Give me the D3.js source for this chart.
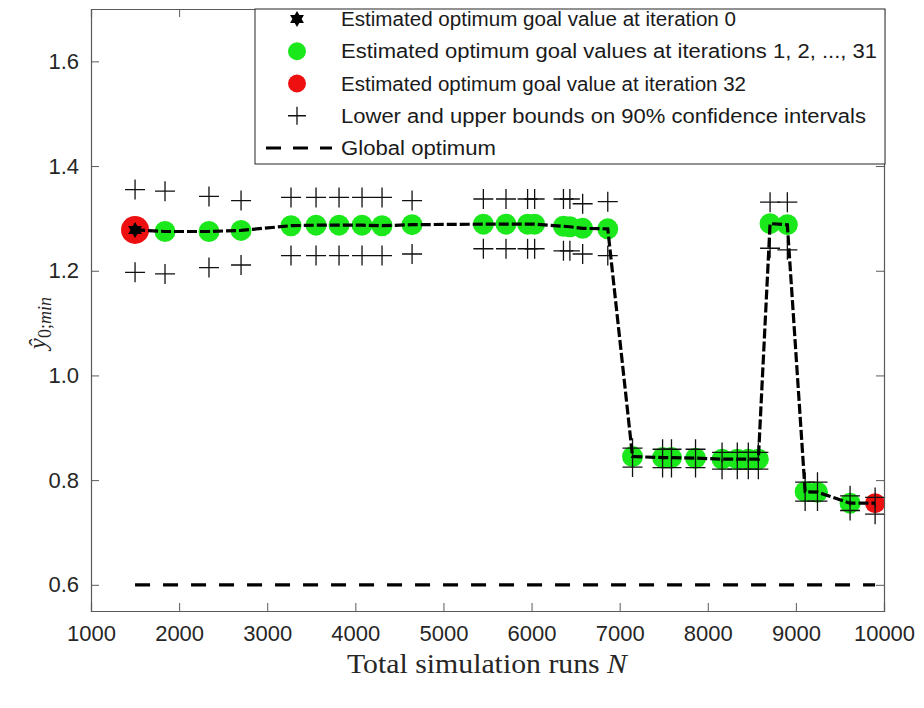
<!DOCTYPE html>
<html>
<head>
<meta charset="utf-8">
<script src="https://cdn.jsdelivr.net/npm/d3@7"></script>
<style>
  body { margin: 0; background: #fff; }
  svg { display: block; }
</style>
</head>
<body>
<div id="chart"></div>
<script>
// ---- data ----
// iteration 0
var startRun = 1500, startVal = 1.278, startLo = 1.197, startHi = 1.355;
// iterations 1..31 (green)
var runs = [1840, 2339, 2703, 3270, 3554, 3815, 4076, 4303, 4644,
            5453, 5710, 5955, 6035, 6362, 6435, 6580, 6865,
            7146, 7487, 7588, 7861, 8162, 8335, 8460, 8574,
            8707, 8903, 9105, 9245, 9615];
var vals = [1.275, 1.275, 1.277, 1.286, 1.287, 1.287, 1.287, 1.286, 1.288,
            1.289, 1.289, 1.289, 1.289, 1.285, 1.284, 1.281, 1.280,
            0.845, 0.843, 0.843, 0.842, 0.840, 0.840, 0.840, 0.840,
            1.290, 1.288, 0.778, 0.777, 0.756];
var lower = [1.194, 1.206, 1.211, 1.229, 1.229, 1.229, 1.229, 1.229, 1.232,
             1.242, 1.242, 1.242, 1.242, 1.238, 1.238, 1.232, 1.229,
             0.825, 0.824, 0.824, 0.824, 0.821, 0.821, 0.821, 0.821,
             1.243, 1.240, 0.760, 0.760, 0.742];
var upper = [1.352, 1.342, 1.334, 1.340, 1.340, 1.340, 1.340, 1.340, 1.334,
             1.337, 1.337, 1.337, 1.337, 1.337, 1.337, 1.328, 1.332,
             0.861, 0.859, 0.859, 0.859, 0.853, 0.853, 0.853, 0.853,
             1.331, 1.331, 0.796, 0.796, 0.770];
// iteration 32 (red)
var endRun = 9899, endVal = 0.756, endLo = 0.735, endHi = 0.767;
var globalOpt = 0.6;

var xTicks = [1000, 2000, 3000, 4000, 5000, 6000, 7000, 8000, 9000, 10000];
var yTicks = [0.6, 0.8, 1.0, 1.2, 1.4, 1.6];
var legendLabels = [
  "Estimated optimum goal value at iteration 0",
  "Estimated optimum goal values at iterations 1, 2, ..., 31",
  "Estimated optimum goal value at iteration 32",
  "Lower and upper bounds on 90% confidence intervals",
  "Global optimum"
];

// ---- layout ----
const width = 924, height = 708;
const margin = {top: 9, right: 40, bottom: 97, left: 91};
const green = "#1ae81a", red = "#ee1010", axisCol = "#5a5a5a";

var svg = d3.select("#chart").append("svg")
    .attr("width", width)
    .attr("height", height)
    .style("font-family", "'Liberation Sans', Arial, Helvetica, sans-serif");

var x = d3.scaleLinear().domain([1000, 10000])
    .range([margin.left, width - margin.right]);
var y = d3.scaleLinear().domain([0.55, 1.7])
    .range([height - margin.bottom, margin.top]);

// all points along the path
var pathRuns = [startRun].concat(runs, [endRun]);
var pathVals = [startVal].concat(vals, [endVal]);
var pathLo = [startLo].concat(lower, [endLo]);
var pathHi = [startHi].concat(upper, [endHi]);

var g = svg.append("g");

// global optimum line
g.append("line")
    .attr("x1", x(startRun)).attr("x2", x(endRun))
    .attr("y1", y(globalOpt)).attr("y2", y(globalOpt))
    .attr("stroke", "#000").attr("stroke-width", 3.2)
    .attr("stroke-dasharray", "15,13");

// big red marker behind the star at iteration 0
g.append("circle")
    .attr("cx", x(startRun)).attr("cy", y(startVal)).attr("r", 14)
    .attr("fill", red);

// green circles
g.selectAll("circle.it")
    .data(runs)
    .enter().append("circle")
    .attr("class", "it")
    .attr("cx", d => x(d))
    .attr("cy", (d, i) => y(vals[i]))
    .attr("r", 10.5)
    .attr("fill", green);

// red circle at iteration 32
g.append("circle")
    .attr("cx", x(endRun)).attr("cy", y(endVal)).attr("r", 10)
    .attr("fill", red);

// confidence bounds as plus markers
function plus(sel, cx, cy, s) {
  sel.append("path")
    .attr("d", "M" + (cx - s) + "," + cy + "H" + (cx + s) + "M" + cx + "," + (cy - s) + "V" + (cy + s))
    .attr("stroke", "#111").attr("stroke-width", 1.3).attr("fill", "none");
}
pathRuns.forEach(function(r, i) {
  plus(g, x(r), y(pathLo[i]), 10);
  plus(g, x(r), y(pathHi[i]), 10);
});

// dashed optimisation path
var line = d3.line().x(d => x(d[0])).y(d => y(d[1]));
g.append("path")
    .datum(pathRuns.map((r, i) => [r, pathVals[i]]))
    .attr("d", line)
    .attr("fill", "none")
    .attr("stroke", "#000").attr("stroke-width", 3.2)
    .attr("stroke-dasharray", "10,3");

// hexagram (six point star)
function hexagram(cx, cy, r) {
  var pts = [];
  for (var k = 0; k < 12; k++) {
    var a = -Math.PI / 2 + k * Math.PI / 6;
    var rr = k % 2 === 0 ? r : r * 0.577;
    pts.push([cx + rr * Math.cos(a), cy + rr * Math.sin(a)]);
  }
  return "M" + pts.map(p => p.join(",")).join("L") + "Z";
}
g.append("path")
    .attr("d", hexagram(x(startRun), y(startVal), 8))
    .attr("fill", "#000");

// ---- axes (box with inward ticks) ----
var xAxis = svg.append("g")
    .attr("transform", "translate(0," + (height - margin.bottom) + ")")
    .call(d3.axisBottom(x).tickValues(xTicks).tickSize(-8).tickPadding(14).tickFormat(d3.format("d")));
var xAxisTop = svg.append("g")
    .attr("transform", "translate(0," + margin.top + ")")
    .call(d3.axisTop(x).tickValues(xTicks).tickSize(-8).tickFormat(""));
var yAxis = svg.append("g")
    .attr("transform", "translate(" + margin.left + ",0)")
    .call(d3.axisLeft(y).tickValues(yTicks).tickSize(-8).tickPadding(12).tickFormat(d3.format(".1f")));
var yAxisRight = svg.append("g")
    .attr("transform", "translate(" + (width - margin.right) + ",0)")
    .call(d3.axisRight(y).tickValues(yTicks).tickSize(-8).tickFormat(""));

[xAxis, xAxisTop, yAxis, yAxisRight].forEach(function(a) {
  a.select(".domain").attr("stroke", axisCol).attr("stroke-width", 1.2);
  a.selectAll(".tick line").attr("stroke", axisCol).attr("stroke-width", 1);
  a.selectAll(".tick text")
    .attr("fill", "#262626")
    .style("font-size", "22px")
    .style("font-family", "'Liberation Sans', Arial, sans-serif");
});

// axis labels
svg.append("text")
    .attr("x", 487).attr("y", 673)
    .attr("text-anchor", "middle")
    .attr("textLength", 280)
    .attr("lengthAdjust", "spacingAndGlyphs")
    .style("font-family", "'Liberation Serif', 'Times New Roman', serif")
    .style("font-size", "27px")
    .attr("fill", "#262626")
    .html("Total simulation runs <tspan font-style='italic'>N</tspan>");

var yl = svg.append("text")
    .attr("transform", "translate(46," + y(1.1) + ") rotate(-90)")
    .attr("text-anchor", "middle")
    .style("font-family", "'Liberation Serif', 'Times New Roman', serif")
    .style("font-size", "25px")
    .attr("fill", "#262626");
yl.append("tspan").attr("font-style", "italic").text("y\u0302");
yl.append("tspan").attr("dy", 5).style("font-size", "18px").text("0;");
yl.append("tspan").style("font-size", "18px").attr("font-style", "italic").text("min");

// ---- legend ----
var lg = svg.append("g");
var lgX0 = 255, lgY0 = margin.top, lgW = 630, lgH = 155;
lg.append("rect")
    .attr("x", lgX0).attr("y", lgY0).attr("width", lgW).attr("height", lgH)
    .attr("fill", "#fff").attr("stroke", "#262626").attr("stroke-width", 1);

var rowY = d3.scalePoint().domain(d3.range(legendLabels.length)).range([19, 148]);
var mx = 297;
lg.append("path").attr("d", hexagram(mx, rowY(0), 8)).attr("fill", "#000");
lg.append("circle").attr("cx", mx).attr("cy", rowY(1)).attr("r", 9).attr("fill", green);
lg.append("circle").attr("cx", mx).attr("cy", rowY(2)).attr("r", 9).attr("fill", red);
plus(lg, mx, rowY(3), 9);
lg.append("line")
    .attr("x1", 266).attr("x2", 332).attr("y1", rowY(4)).attr("y2", rowY(4))
    .attr("stroke", "#000").attr("stroke-width", 3.2).attr("stroke-dasharray", "15,12");

// text widths as they appear in the figure
var labelWidths = [395, 536, 405, 525, 155];
lg.selectAll("text.lab")
    .data(legendLabels)
    .enter().append("text")
    .attr("class", "lab")
    .attr("x", 341)
    .attr("y", (d, i) => rowY(i))
    .attr("dy", "0.36em")
    .attr("textLength", (d, i) => labelWidths[i])
    .attr("lengthAdjust", "spacingAndGlyphs")
    .style("font-size", "20px")
    .attr("fill", "#1a1a1a")
    .text(d => d);
</script>
</body>
</html>
